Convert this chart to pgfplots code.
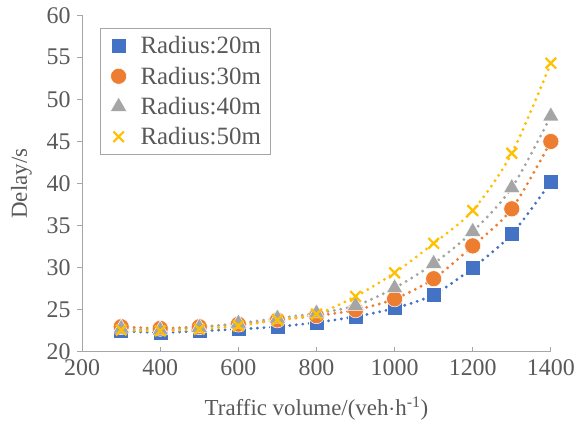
\documentclass[border=0pt]{standalone}
\usepackage{fontspec}
\setmainfont{Liberation Serif}
\usepackage{pgfplots}
\pgfplotsset{compat=1.18}
\definecolor{cA}{HTML}{4472C4}
\definecolor{cB}{HTML}{ED7D31}
\definecolor{cC}{HTML}{A5A5A5}
\definecolor{cD}{HTML}{FFC000}
\definecolor{txt}{HTML}{595959}
\definecolor{axc}{HTML}{A6A6A6}
\begin{document}
\begin{tikzpicture}[x=1bp,y=1bp]
\draw[white] (-82,-75) rectangle (498,352);
\begin{axis}[
  at={(0,0)}, anchor=origin,
  scale only axis, width=469bp, height=337bp,
  xmin=200, xmax=1400, ymin=20, ymax=60,
  xtick={200,400,...,1400}, ytick={20,25,...,60},
  axis lines=left, axis line style={axc, line width=1pt, -},
  tick style={axc, line width=1pt}, xtick align=inside, ytick align=outside, major tick length=5bp,
  ticklabel style={font=\fontsize{24}{25}\selectfont, text=txt},
  xticklabel style={yshift=-4bp},
  yticklabel style={xshift=-3bp},
  /pgf/number format/assume math mode=true,
  /pgf/number format/1000 sep={},
  xlabel={Traffic volume/(veh$\cdot$h\textsuperscript{-1})},
  ylabel={Delay/s},
  label style={font=\fontsize{23}{24}\selectfont, text=txt},
  xlabel style={yshift=-14bp},
  ylabel style={yshift=8bp},
  legend style={at={(18bp,324bp)}, anchor=north west, draw=axc, line width=1pt,
    font=\fontsize{25}{26}\selectfont, text=txt, row sep=7.5bp, inner xsep=8bp, inner ysep=6bp},
  legend cell align=left,
  legend image code/.code={\path[draw=none,fill=none] (0,0) -- (30bp,0); \path[#1, draw=none] plot[only marks] coordinates {(10bp,0)};},
  clip=false,
]
\addplot[cA, line width=3.2bp, dash pattern=on 0pt off 6.5bp, line cap=round, smooth, mark=square*, mark size=7.5bp,
  mark options={solid, fill=cA, draw=white, line width=0.5pt}] coordinates {
(300,22.5)(400,22.3)(500,22.5)(600,22.7)(700,23.0)(800,23.5)(900,24.2)(1000,25.2)(1100,26.8)(1200,30.0)(1300,34.0)(1400,40.2)};
\addlegendentry{Radius:20m}
\addplot[cB, line width=3.2bp, dash pattern=on 0pt off 6.5bp, line cap=round, smooth, mark=*, mark size=8bp,
  mark options={solid, fill=cB, draw=white, line width=0.5pt}] coordinates {
(300,23.0)(400,22.8)(500,23.0)(600,23.3)(700,23.8)(800,24.3)(900,25.0)(1000,26.3)(1100,28.7)(1200,32.6)(1300,37.0)(1400,45.0)};
\addlegendentry{Radius:30m}
\addplot[cC, line width=3.2bp, dash pattern=on 0pt off 6.5bp, line cap=round, smooth, mark=triangle*, mark size=9.5bp,
  mark options={solid, fill=cC, draw=white, line width=0.5pt}] coordinates {
(300,22.8)(400,22.6)(500,22.9)(600,23.4)(700,24.0)(800,24.6)(900,25.5)(1000,27.6)(1100,30.5)(1200,34.3)(1300,39.5)(1400,48.0)};
\addlegendentry{Radius:40m}
\addplot[cD, line width=3.2bp, dash pattern=on 0pt off 6.5bp, line cap=round, smooth, mark=x, mark size=7.5bp,
  mark options={solid, draw=cD, line width=2.2pt, line cap=butt}] coordinates {
(300,22.6)(400,22.5)(500,22.7)(600,23.1)(700,23.8)(800,24.5)(900,26.6)(1000,29.4)(1100,32.9)(1200,36.8)(1300,43.6)(1400,54.3)};
\addlegendentry{Radius:50m}
\end{axis}
\end{tikzpicture}
\end{document}
